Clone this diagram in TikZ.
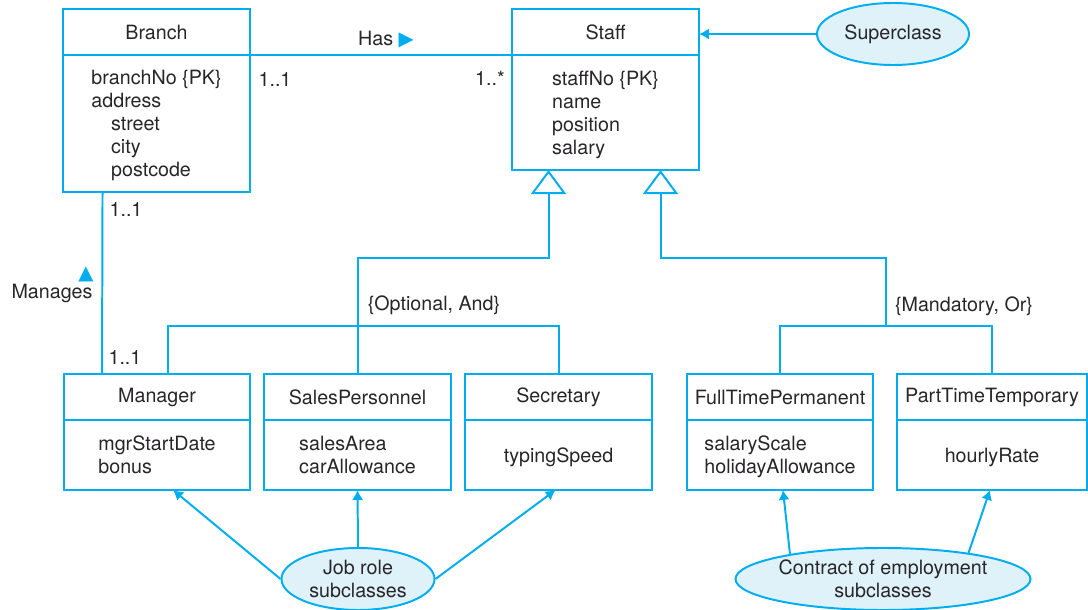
\documentclass[tikz,border=0pt]{standalone}
\usepackage{fontspec}
\setmainfont{TeX Gyre Heros}
\newfontfamily\symfont{DejaVu Sans}
\usepackage{tikz}
\usetikzlibrary{arrows.meta,positioning,shapes.geometric,calc}
\definecolor{umlblue}{RGB}{0,174,239}
\definecolor{notefill}{RGB}{223,242,250}
\definecolor{umltext}{RGB}{40,38,40}
\tikzset{
  classhead/.style={draw=umlblue, line width=1.4pt, anchor=north west,
    minimum height=1.15cm, inner sep=2pt, outer sep=0pt},
  classbody/.style={draw=umlblue, line width=1.4pt, align=left,
    inner sep=2pt, outer sep=0pt, text depth=0pt},
  note/.style={ellipse, draw=umlblue, fill=notefill, line width=1.4pt,
    inner sep=0pt, align=center},
  conn/.style={draw=umlblue, line width=1.4pt},
  arr/.style={conn, -{Latex[length=7pt,width=8pt]}},
  gen/.style={conn, -{Triangle[open,length=0.6cm,width=0.875cm]}},
  lbl/.style={inner sep=0pt}
}

\begin{document}
\begin{tikzpicture}[x=0.025cm, y=-0.025cm,
    font=\fontsize{14}{16.3}\selectfont, text=umltext]
  \useasboundingbox (0,0) rectangle (1088,610);

  \node[classhead, minimum width=4.675cm] (branch) at (63,9) {Branch};
  \node[classbody, minimum width=4.675cm, minimum height=3.425cm,
    below=0pt of branch] (branchattr)
    {branchNo \{PK\}\\address\\\hspace*{14pt}street\\\hspace*{14pt}city\\\hspace*{14pt}postcode};

  \node[classhead, minimum width=4.675cm] (staff) at (512,9) {Staff};
  \node[classbody, minimum width=4.675cm, minimum height=2.875cm,
    below=0pt of staff] (staffattr) {staffNo \{PK\}\\name\\position\\salary};

  \node[note, minimum width=3.8cm, minimum height=1.55cm] (super) at (893,34) {Superclass};

  \node[classhead, minimum width=4.65cm] (mgr) at (64,374) {Manager};
  \node[classbody, minimum width=4.65cm, minimum height=1.75cm,
    below=0pt of mgr] (mgrattr) {mgrStartDate\\bonus};
  \node[classhead, minimum width=4.675cm] (salesp) at (264,374) {SalesPersonnel};
  \node[classbody, minimum width=4.675cm, minimum height=1.75cm,
    below=0pt of salesp] (salespattr) {salesArea\\carAllowance};
  \node[classhead, minimum width=4.675cm] (sec) at (465,374) {Secretary};
  \node[classbody, minimum width=4.675cm, minimum height=1.75cm,
    below=0pt of sec] (secattr) {typingSpeed};
  \node[classhead, minimum width=4.65cm] (ftp) at (687,374) {FullTimePermanent};
  \node[classbody, minimum width=4.65cm, minimum height=1.75cm,
    below=0pt of ftp] (ftpattr) {salaryScale\\holidayAllowance};
  \node[classhead, minimum width=4.75cm] (ptt) at (897,374) {PartTimeTemporary};
  \node[classbody, minimum width=4.75cm, minimum height=1.75cm,
    below=0pt of ptt] (pttattr) {hourlyRate};

  \node[note, minimum width=3.825cm, minimum height=1.55cm] (jobrole) at (358,579)
    {Job role\\subclasses};
  \node[note, minimum width=7.05cm, minimum height=1.55cm] (contract) at (883,579)
    {Contract of employment\\subclasses};

  \node[lbl] (haslbl) at (386,40)
    {Has \textcolor{umlblue}{\symfont\fontsize{14}{14}\selectfont ▶}};
  \node[lbl] (manlbl) at (52,293) {Manages};
  \node[lbl, text=umlblue] (mantri) at (86,274) {\symfont\fontsize{14}{14}\selectfont ▲};
  \node[lbl] (hasbranch) at (275,80) {1..1};
  \node[lbl] (hasstaff) at (490,78) {1..*};
  \node[lbl] (manbranch) at (126,210) {1..1};
  \node[lbl] (manmgr) at (125,358) {1..1};
  \node[lbl] (optand) at (434,305) {\{Optional, And\}};
  \node[lbl] (mandor) at (964,306) {\{Mandatory, Or\}};

  \draw[conn] (branch.south east) -- (staff.south west);
  \draw[conn] ($(branchattr.south)+(-54,0)$) -- ($(mgr.north)+(-55,0)$);
  \draw[arr] (super) -- (super -| staff.east);

  \draw[conn] ($(mgr.north)+(11,0)$) |- ($(salesp.north)+(0,-48)$) -| (sec.north);
  \draw[gen] (salesp.north) -- ++(0,-116) -| ($(staffattr.south)+(-57,0)$);
  \draw[conn] (ftp.north) |- ($(ftp.north)!.5!(ptt.north)+(0,-48)$) -| (ptt.north);
  \draw[gen] ($(ftp.north)!.5!(ptt.north)+(0,-48)$) -- ++(0,-68)
    -| ($(staffattr.south)+(55,0)$);

  \draw[arr] (jobrole.west) -- ($(mgrattr.south)+(16,0)$);
  \draw[arr] (jobrole.north) -- (salespattr.south);
  \draw[arr] (jobrole.east) -- ($(secattr.south)+(-3,0)$);
  \draw[arr] (contract.165) -- ($(ftpattr.south)+(3,0)$);
  \draw[arr] (contract.17) -- ($(pttattr.south)+(-2,0)$);
\end{tikzpicture}
\end{document}
